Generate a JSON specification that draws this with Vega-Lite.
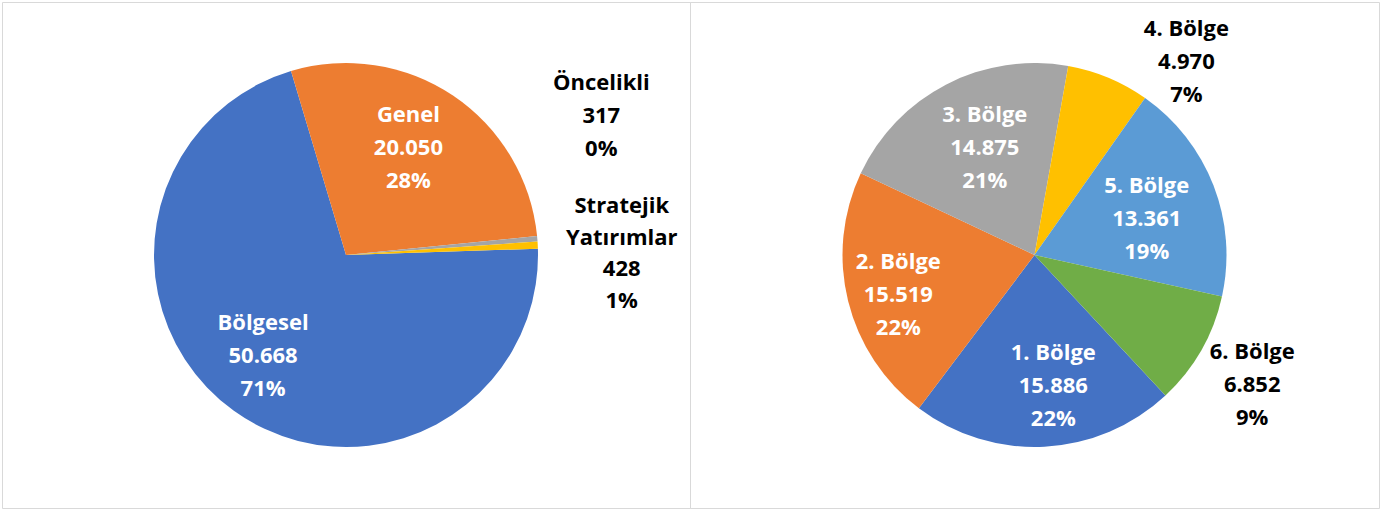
{
  "$schema": "https://vega.github.io/schema/vega-lite/v6.json",
  "padding": {"left": 1, "top": 1, "right": 0, "bottom": 0},
  "spacing": 0,
  "bounds": "flush",
  "background": "white",
  "config": {
    "view": {"stroke": "#D9D9D9", "strokeWidth": 1},
    "text": {"font": "Open Sans", "fontWeight": "bold", "fontSize": 22, "lineHeight": 33, "lineBreak": "\n", "align": "center", "baseline": "middle", "clip": true}
  },
  "resolve": {"scale": {"color": "independent", "theta": "independent"}},
  "hconcat": [
    {
      "width": 688,
      "height": 506,
      "view": {"stroke": "#D9D9D9", "strokeWidth": 1},
      "data": {"values": [
        {"cat": "Bölgesel", "value": 50668, "ord": 1, "label": "Bölgesel\n50.668\n71%"},
        {"cat": "Genel", "value": 20050, "ord": 2, "label": "Genel\n20.050\n28%"},
        {"cat": "Öncelikli", "value": 317, "ord": 3, "label": "Öncelikli\n317\n0%"},
        {"cat": "Stratejik Yatırımlar", "value": 428, "ord": 4, "label": "Stratejik\nYatırımlar\n428\n1%"}
      ]},
      "encoding": {
        "theta": {"field": "value", "type": "quantitative", "stack": true, "scale": {"range": [1.538, 7.821]}},
        "order": {"field": "ord", "type": "quantitative"}
      },
      "layer": [
        {
          "mark": {"type": "arc", "outerRadius": 192},
          "encoding": {
            "color": {"field": "cat", "type": "nominal", "legend": null,
              "scale": {"domain": ["Bölgesel", "Genel", "Öncelikli", "Stratejik Yatırımlar"], "range": ["#4472C4", "#ED7D31", "#A5A5A5", "#FFC000"]}}
          }
        },
        {
          "mark": {"type": "text", "radius": 130, "color": "white", "dx": -7, "dy": -38, "clip": true},
          "encoding": {
            "text": {"condition": {"test": "datum.cat === 'Bölgesel'", "field": "label"}, "value": ""}
          }
        },
        {
          "mark": {"type": "text", "radius": 130, "color": "white", "dx": -10, "dy": -32, "clip": true},
          "encoding": {
            "text": {"condition": {"test": "datum.cat === 'Genel'", "field": "label"}, "value": ""}
          }
        },
        {
          "mark": {"type": "text", "radius": 192, "color": "black", "dx": 64, "dy": -156, "clip": true},
          "encoding": {
            "text": {"condition": {"test": "datum.cat === 'Öncelikli'", "field": "label"}, "value": ""}
          }
        },
        {
          "mark": {"type": "text", "radius": 192, "color": "black", "dx": 84, "dy": -39, "lineHeight": 31.5, "clip": true},
          "encoding": {
            "text": {"condition": {"test": "datum.cat === 'Stratejik Yatırımlar'", "field": "label"}, "value": ""}
          }
        }
      ]
    },
    {
      "width": 689,
      "height": 506,
      "view": {"stroke": "#D9D9D9", "strokeWidth": 1},
      "data": {"values": [
        {"cat": "1. Bölge", "value": 15886, "ord": 1, "label": "1. Bölge\n15.886\n22%"},
        {"cat": "2. Bölge", "value": 15519, "ord": 2, "label": "2. Bölge\n15.519\n22%"},
        {"cat": "3. Bölge", "value": 14875, "ord": 3, "label": "3. Bölge\n14.875\n21%"},
        {"cat": "4. Bölge", "value": 4970, "ord": 4, "label": "4. Bölge\n4.970\n7%"},
        {"cat": "5. Bölge", "value": 13361, "ord": 5, "label": "5. Bölge\n13.361\n19%"},
        {"cat": "6. Bölge", "value": 6852, "ord": 6, "label": "6. Bölge\n6.852\n9%"}
      ]},
      "encoding": {
        "theta": {"field": "value", "type": "quantitative", "stack": true, "scale": {"range": [2.391, 8.674]}},
        "order": {"field": "ord", "type": "quantitative"}
      },
      "layer": [
        {
          "mark": {"type": "arc", "outerRadius": 192},
          "encoding": {
            "color": {"field": "cat", "type": "nominal", "legend": null,
              "scale": {"domain": ["1. Bölge", "2. Bölge", "3. Bölge", "4. Bölge", "5. Bölge", "6. Bölge"], "range": ["#4472C4", "#ED7D31", "#A5A5A5", "#FFC000", "#5B9BD5", "#70AD47"]}}
          }
        },
        {
          "mark": {"type": "text", "radius": 130, "color": "white", "dx": 12, "dy": -32, "clip": true},
          "encoding": {
            "text": {"condition": {"test": "datum.cat === '1. Bölge'", "field": "label"}, "value": ""}
          }
        },
        {
          "mark": {"type": "text", "radius": 130, "color": "white", "dx": -10, "dy": -24, "clip": true},
          "encoding": {
            "text": {"condition": {"test": "datum.cat === '2. Bölge'", "field": "label"}, "value": ""}
          }
        },
        {
          "mark": {"type": "text", "radius": 130, "color": "white", "dx": 10, "dy": -25, "clip": true},
          "encoding": {
            "text": {"condition": {"test": "datum.cat === '3. Bölge'", "field": "label"}, "value": ""}
          }
        },
        {
          "mark": {"type": "text", "radius": 130, "color": "white", "dx": -9, "dy": -22, "clip": true},
          "encoding": {
            "text": {"condition": {"test": "datum.cat === '5. Bölge'", "field": "label"}, "value": ""}
          }
        },
        {
          "mark": {"type": "text", "radius": 192, "color": "black", "dx": 78, "dy": -49, "clip": true},
          "encoding": {
            "text": {"condition": {"test": "datum.cat === '4. Bölge'", "field": "label"}, "value": ""}
          }
        },
        {
          "mark": {"type": "text", "radius": 192, "color": "black", "dx": 51, "dy": 2, "clip": true},
          "encoding": {
            "text": {"condition": {"test": "datum.cat === '6. Bölge'", "field": "label"}, "value": ""}
          }
        }
      ]
    }
  ]
}
